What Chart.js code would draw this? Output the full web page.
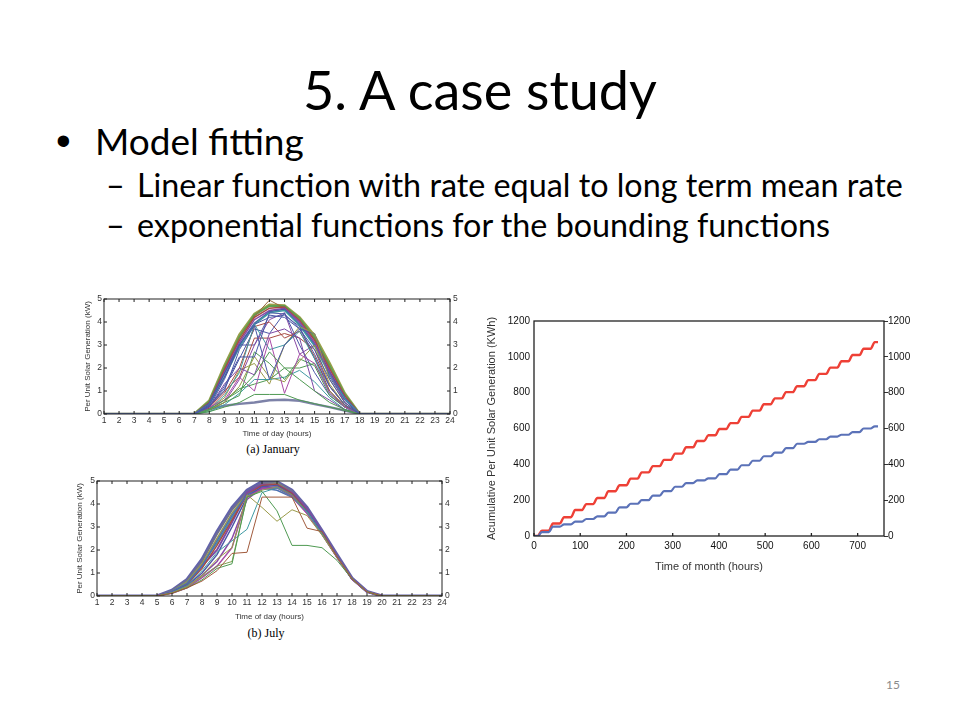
<!DOCTYPE html>
<html>
<head>
<meta charset="utf-8">
<script src="https://cdn.jsdelivr.net/npm/chart.js@4.4.1/dist/chart.umd.min.js"></script>
<style>
  body { margin: 0; background: #fff; }
  #slide { position: relative; width: 960px; height: 720px; overflow: hidden; font-family: Lato, "Open Sans", sans-serif; color: #000; }
  .t { position: absolute; white-space: nowrap; line-height: 1; }
  canvas { position: absolute; }
  .cap { position: absolute; font-family: "Liberation Serif", "DejaVu Serif", serif; font-size: 12px; line-height: 1; white-space: nowrap; transform: translateX(-50%); }
</style>
</head>
<body>
<div id="slide">
  <div class="t" style="left:0;width:960px;text-align:center;top:63px;font-size:54px;">5. A case study</div>
  <div class="t" style="left:56px;top:120px;font-size:42px;font-family:'Liberation Sans',Arial,sans-serif;">•</div>
  <div class="t" style="left:95px;top:122px;font-size:37px;">Model fitting</div>
  <div class="t" style="left:106px;top:169px;font-size:32.3px;">–</div>
  <div class="t" style="left:137px;top:169px;font-size:32.3px;">Linear function with rate equal to long term mean rate</div>
  <div class="t" style="left:106px;top:209px;font-size:32.3px;">–</div>
  <div class="t" style="left:137px;top:209px;font-size:32.3px;">exponential functions for the bounding functions</div>
  <div class="t" style="left:886px;top:679px;font-size:12px;color:#8a8a8a;">15</div>

  <canvas id="janChart" width="384" height="149" style="left:80px;top:290px;"></canvas>
  <div class="cap" style="left:273px;top:443px;">(a) January</div>
  <canvas id="julChart" width="384" height="150" style="left:72px;top:472px;"></canvas>
  <div class="cap" style="left:266px;top:627px;">(b) July</div>
  <canvas id="cumChart" width="433" height="264" style="left:481px;top:310px;"></canvas>
</div>

<script>
// ---- January: per unit solar generation, one line per day (hours 7..18, zero at night)
var JAN_HOURS = [7, 8, 9, 10, 11, 12, 13, 14, 15, 16, 17, 18];
var JAN_VALUES = [
    [0, 0.30, 1.20, 2.48, 2.48, 4.40, 4.35, 3.70, 2.80, 1.50, 0.50, 0],
    [0, 0.35, 1.00, 2.80, 3.85, 1.50, 3.00, 3.70, 2.60, 1.20, 0.40, 0],
    [0, 0.20, 0.60, 1.00, 1.70, 2.70, 2.00, 1.50, 1.00, 0.50, 0.20, 0],
    [0, 0.10, 0.30, 0.50, 0.85, 0.85, 0.85, 0.60, 0.45, 0.30, 0.15, 0],
    [0, 0.30, 0.60, 1.60, 1.00, 3.30, 0.90, 2.60, 2.20, 0.90, 0.30, 0],
    [0, 0.30, 1.30, 2.00, 1.70, 3.50, 3.70, 3.30, 1.00, 0.60, 0.20, 0],
    [0, 0.20, 0.80, 1.80, 3.90, 2.80, 3.00, 3.60, 2.40, 0.90, 0.30, 0],
    [0, 0.20, 0.50, 1.20, 2.50, 1.60, 1.40, 2.30, 3.00, 1.30, 0.40, 0],
    [0, 0.25, 0.90, 2.00, 3.80, 4.00, 3.30, 3.60, 2.50, 1.00, 0.35, 0],
    [0, 0.30, 1.50, 3.00, 3.90, 4.20, 4.30, 3.80, 2.40, 1.20, 0.40, 0],
    [0, 0.15, 0.50, 0.80, 2.70, 2.20, 1.50, 2.40, 2.10, 0.80, 0.30, 0],
    [0, 0.35, 1.10, 2.40, 3.70, 3.50, 4.40, 3.00, 1.80, 0.80, 0.30, 0],
    [0, 0.20, 0.50, 1.50, 3.00, 4.10, 4.40, 2.60, 3.00, 1.80, 0.50, 0],
    [0, 0.10, 0.40, 0.90, 1.50, 1.50, 1.60, 1.90, 1.40, 0.70, 0.20, 0],
    [0, 0.25, 0.70, 1.90, 2.20, 1.30, 3.00, 3.80, 3.50, 1.50, 0.50, 0],
    [0, 0.30, 1.00, 1.60, 3.30, 3.30, 3.50, 3.30, 2.80, 1.20, 0.40, 0],
    [0, 0.40, 1.60, 3.00, 3.00, 4.30, 4.20, 3.70, 3.50, 1.60, 0.60, 0],
    [0, 0.20, 0.60, 1.10, 1.30, 1.50, 2.00, 2.00, 2.20, 1.00, 0.30, 0],
    [0, 0.40, 1.60, 2.90, 3.90, 4.40, 4.50, 3.85, 2.95, 1.70, 0.65, 0],
    [0, 0.45, 1.75, 3.00, 3.95, 4.45, 4.55, 3.90, 3.00, 1.80, 0.70, 0],
    [0, 0.45, 1.80, 3.10, 4.10, 4.50, 4.60, 4.00, 3.10, 1.85, 0.70, 0],
    [0, 0.50, 1.90, 3.20, 4.20, 4.60, 4.65, 4.05, 3.20, 1.95, 0.80, 0],
    [0, 0.50, 1.95, 3.30, 4.25, 4.95, 4.60, 4.10, 3.25, 2.00, 0.80, 0],
    [0, 0.55, 2.00, 3.35, 4.30, 4.70, 4.70, 4.15, 3.30, 2.10, 0.85, 0],
    [0, 0.22, 0.36, 0.44, 0.50, 0.60, 0.62, 0.58, 0.43, 0.30, 0.15, 0],
    [0, 0.58, 2.10, 3.45, 4.35, 4.75, 4.72, 4.20, 3.40, 2.20, 0.90, 0]
];
var JAN_COLORS = ['#4b57a6', '#4b57a6', '#4f9a52', '#4f9a52', '#a84aa6', '#7d4aa6', '#3f9aa3', '#9a9a48',
    '#a84a42', '#4b57a6', '#4f9a52', '#4b57a6', '#8a4aa6', '#3f9aa3', '#9a9a48', '#a84a42',
    '#4b57a6', '#4f9a52', '#3f9aa3', '#4b57a6', '#8a4aa6', '#a84a42', '#9a6a40', '#5fa050',
    '#7d82a8', '#9aa04a'];
var JAN_WIDTHS = [1, 1, 1, 1, 1, 1, 1, 1, 1, 1, 1, 1, 1, 1, 1, 1, 1, 1, 1.5, 1.5, 1.5, 1.5, 1, 2, 2.5, 2.5];

// ---- July (hours 5..20)
var JUL_HOURS = [5, 6, 7, 8, 9, 10, 11, 12, 13, 14, 15, 16, 17, 18, 19, 20];
var JUL_VALUES = [
    [0, 0.12, 0.35, 0.65, 1.10, 1.85, 1.90, 4.30, 4.30, 4.30, 2.95, 2.80, 1.70, 0.75, 0.18, 0],
    [0, 0.12, 0.35, 0.70, 1.20, 1.40, 4.30, 4.55, 3.70, 2.20, 2.20, 2.10, 1.55, 0.74, 0.18, 0],
    [0, 0.14, 0.40, 0.90, 1.60, 2.10, 4.40, 3.85, 3.25, 3.75, 3.50, 2.65, 1.68, 0.74, 0.18, 0],
    [0, 0.15, 0.45, 1.10, 1.90, 2.40, 2.90, 4.50, 4.70, 4.30, 3.65, 2.70, 1.70, 0.75, 0.19, 0],
    [0, 0.13, 0.40, 0.85, 1.30, 1.50, 4.30, 4.60, 4.75, 4.40, 3.65, 2.70, 1.70, 0.75, 0.18, 0],
    [0, 0.12, 0.35, 0.80, 1.30, 2.10, 4.30, 4.65, 4.70, 4.30, 3.60, 2.68, 1.68, 0.74, 0.18, 0],
    [0, 0.15, 0.40, 0.90, 1.50, 2.50, 4.20, 4.70, 4.75, 4.35, 3.60, 2.70, 1.68, 0.74, 0.18, 0],
    [0, 0.15, 0.45, 1.00, 1.80, 3.00, 4.30, 4.75, 4.80, 4.40, 3.65, 2.72, 1.70, 0.75, 0.18, 0],
    [0, 0.20, 0.55, 1.30, 2.40, 3.50, 4.40, 4.70, 4.60, 4.30, 3.70, 2.75, 1.70, 0.75, 0.18, 0],
    [0, 0.18, 0.50, 1.20, 2.20, 3.30, 4.40, 4.80, 4.85, 4.45, 3.70, 2.70, 1.70, 0.74, 0.18, 0],
    [0, 0.18, 0.50, 1.30, 2.00, 3.20, 4.50, 4.85, 4.85, 4.50, 3.80, 2.80, 1.75, 0.76, 0.19, 0],
    [0, 0.20, 0.60, 1.40, 2.50, 3.60, 4.45, 4.85, 4.90, 4.50, 3.75, 2.75, 1.72, 0.75, 0.18, 0],
    [0, 0.20, 0.60, 1.35, 2.30, 3.40, 4.50, 4.80, 4.90, 4.50, 3.75, 2.80, 1.75, 0.76, 0.19, 0],
    [0, 0.22, 0.68, 1.50, 2.70, 3.75, 4.50, 4.90, 4.95, 4.55, 3.80, 2.80, 1.75, 0.76, 0.19, 0],
    [0, 0.25, 0.72, 1.60, 2.80, 3.85, 4.60, 4.98, 4.97, 4.60, 3.85, 2.85, 1.80, 0.78, 0.20, 0]
];
var JUL_COLORS = ['#a05a3c', '#4f9a52', '#9a9a48', '#3f9aa3', '#7fa050', '#a84aa6', '#8a4aa6', '#4b57a6',
    '#4b70b0', '#a84a42', '#7d4aa6', '#9a9a48', '#3f9aa3', '#6f7090', '#6262aa'];
var JUL_WIDTHS = [1, 1, 1, 1, 1, 1.5, 1.5, 1.5, 1.5, 1.5, 2, 1.5, 1.5, 2, 3];

// ---- cumulative generation over the month, end-of-day totals (kWh)
var MONTH_HOURS = 744;
var RISE_START = 8, RISE_END = 17;
var RED_CUM = [30, 70, 105, 145, 178, 212, 250, 283, 320, 355, 390, 425, 460, 495, 530, 562,
    597, 630, 665, 700, 735, 768, 803, 836, 870, 905, 940, 975, 1010, 1045, 1082];
var BLUE_CUM = [22, 52, 65, 80, 95, 110, 130, 160, 180, 200, 225, 250, 275, 295, 310, 322,
    345, 370, 395, 420, 445, 465, 490, 515, 525, 540, 555, 565, 580, 600, 612];

var DAY_TICKS = [1, 24];
var FONT = 'Liberation Sans, Arial, sans-serif';

function dayPoints(hours, values) {
    var pts = [{x: DAY_TICKS[0], y: 0}];
    for (var i = 0; i < hours.length; i++) pts.push({x: hours[i], y: values[i]});
    pts.push({x: DAY_TICKS[1], y: 0});
    return pts;
}

function stairPoints(cum) {
    var pts = [{x: 0, y: 0}];
    var prev = 0;
    for (var d = 0; d < cum.length; d++) {
        pts.push({x: d * 24 + RISE_START, y: prev});
        pts.push({x: d * 24 + RISE_END, y: cum[d]});
        prev = cum[d];
    }
    pts.push({x: MONTH_HOURS, y: prev});
    return pts;
}

function plain(v) { return String(v); }

// box around the plot area with small inward ticks, like the matlab figures
var framePlugin = {
    id: 'frame',
    afterDatasetsDraw: function(chart, args, opts) {
        var ctx = chart.ctx, a = chart.chartArea;
        ctx.save();
        ctx.strokeStyle = opts.color || '#222';
        ctx.lineWidth = opts.width || 1;
        ctx.strokeRect(a.left, a.top, a.right - a.left, a.bottom - a.top);
        var len = opts.tick || 0;
        if (len) {
            ctx.beginPath();
            chart.scales.x.ticks.forEach(function(t) {
                var px = chart.scales.x.getPixelForValue(t.value);
                ctx.moveTo(px, a.bottom); ctx.lineTo(px, a.bottom - len);
                if (opts.top) { ctx.moveTo(px, a.top); ctx.lineTo(px, a.top + len); }
            });
            if (opts.sides) {
                chart.scales.y.ticks.forEach(function(t) {
                    var py = chart.scales.y.getPixelForValue(t.value);
                    ctx.moveTo(a.left, py); ctx.lineTo(a.left + len, py);
                    ctx.moveTo(a.right, py); ctx.lineTo(a.right - len, py);
                });
            }
            ctx.stroke();
        }
        ctx.restore();
    }
};

function dayChart(id, hours, values, colors, widths, yW, xH) {
    var datasets = values.map(function(v, i) {
        return {
            data: dayPoints(hours, v),
            borderColor: colors[i],
            borderWidth: widths[i],
            pointRadius: 0,
            tension: 0
        };
    });
    var tickFont = {family: FONT, size: 8.5};
    var titleFont = {family: FONT, size: 8};
    return new Chart(document.getElementById(id), {
        type: 'line',
        data: {datasets: datasets},
        plugins: [framePlugin],
        options: {
            responsive: false,
            animation: false,
            layout: {padding: {top: 9, left: 0, right: 0, bottom: 0}},
            plugins: {
                legend: {display: false},
                tooltip: {enabled: false},
                frame: {color: '#222', width: 1, tick: 3, top: true, sides: true}
            },
            scales: {
                x: {
                    type: 'linear', min: 1, max: 24,
                    grid: {display: false, drawTicks: false},
                    border: {display: false},
                    ticks: {stepSize: 1, autoSkip: false, maxRotation: 0, padding: 2, color: '#333', font: tickFont},
                    title: {display: true, text: 'Time of day (hours)', color: '#333', font: titleFont, padding: {top: 2, bottom: 0}},
                    afterFit: function(s) { s.height = xH; }
                },
                y: {
                    min: 0, max: 5,
                    grid: {display: false, drawTicks: false},
                    border: {display: false},
                    ticks: {stepSize: 1, padding: 2, color: '#333', font: tickFont},
                    title: {display: true, text: 'Per Unit Solar Generation (kW)', color: '#333', font: titleFont, padding: {top: 3, bottom: 0}},
                    afterFit: function(s) { s.width = yW; }
                },
                y2: {
                    position: 'right', min: 0, max: 5,
                    grid: {display: false, drawTicks: false},
                    border: {display: false},
                    ticks: {stepSize: 1, padding: 3, color: '#333', font: tickFont},
                    afterFit: function(s) { s.width = 14; }
                }
            }
        }
    });
}

document.addEventListener('DOMContentLoaded', function() {
    dayChart('janChart', JAN_HOURS, JAN_VALUES, JAN_COLORS, JAN_WIDTHS, 24, 25);
    dayChart('julChart', JUL_HOURS, JUL_VALUES, JUL_COLORS, JUL_WIDTHS, 25, 26);

    var tickFont = {family: FONT, size: 10};
    var titleFont = {family: FONT, size: 11};
    new Chart(document.getElementById('cumChart'), {
        type: 'line',
        data: {
            datasets: [{
                data: stairPoints(BLUE_CUM),
                borderColor: '#5b72b8',
                borderWidth: 2.2,
                pointRadius: 0,
                cubicInterpolationMode: 'monotone'
            }, {
                data: stairPoints(RED_CUM),
                borderColor: '#ee4036',
                borderWidth: 2.4,
                pointRadius: 0,
                cubicInterpolationMode: 'monotone'
            }]
        },
        plugins: [framePlugin],
        options: {
            responsive: false,
            animation: false,
            layout: {padding: {top: 11, left: 0, right: 0, bottom: 0}},
            plugins: {
                legend: {display: false},
                tooltip: {enabled: false},
                frame: {color: '#222', width: 1.3, tick: 3}
            },
            scales: {
                x: {
                    type: 'linear', min: 0, max: 757,
                    grid: {display: false, drawTicks: false},
                    border: {display: false},
                    ticks: {stepSize: 100, includeBounds: false, maxRotation: 0, padding: 4, color: '#111', font: tickFont, callback: plain},
                    title: {display: true, text: 'Time of month (hours)', color: '#333', font: titleFont, padding: {top: 4, bottom: 0}},
                    afterFit: function(s) { s.height = 38; }
                },
                y: {
                    min: 0, max: 1200,
                    grid: {display: false, drawTicks: false},
                    border: {display: false},
                    ticks: {stepSize: 200, padding: 4, color: '#111', font: tickFont, callback: plain},
                    title: {display: true, text: 'Acumulative Per Unit Solar Generation (KWh)', color: '#333', font: titleFont, padding: {top: 4, bottom: 0}},
                    afterFit: function(s) { s.width = 53; }
                },
                y2: {
                    position: 'right', min: 0, max: 1200,
                    grid: {display: true, drawOnChartArea: false, drawTicks: true, tickLength: 4, color: '#333'},
                    border: {display: false},
                    ticks: {stepSize: 200, padding: 0, color: '#111', font: tickFont, callback: plain},
                    afterFit: function(s) { s.width = 30; }
                }
            }
        }
    });
});
</script>
</body>
</html>
